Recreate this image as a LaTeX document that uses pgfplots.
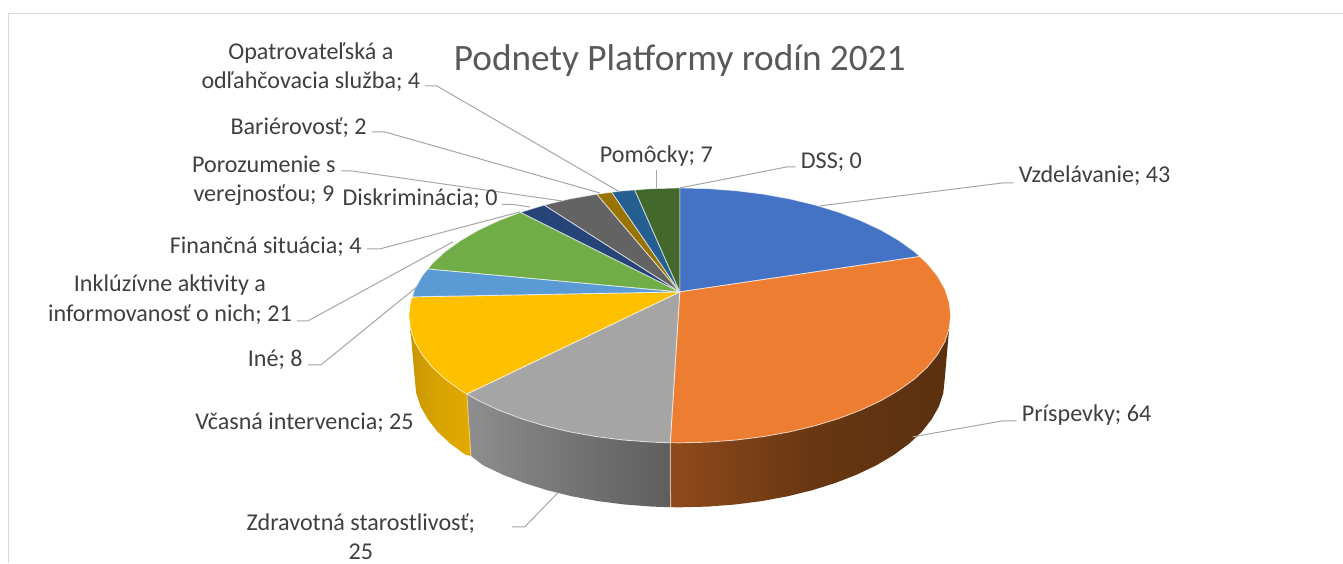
\documentclass[border=0pt]{standalone}
\usepackage{fontspec}
\setmainfont{Carlito}
\usepackage{pgfplots}
\pgfplotsset{compat=1.18}
\definecolor{cBlue}{HTML}{4472C4}
\definecolor{cOrange}{HTML}{ED7D31}
\definecolor{cGray}{HTML}{A5A5A5}
\definecolor{cYellow}{HTML}{FFC000}
\definecolor{cLight}{HTML}{5B9BD5}
\definecolor{cGreen}{HTML}{70AD47}
\definecolor{cNavy}{HTML}{264478}
\definecolor{cDark}{HTML}{636363}
\definecolor{cOchre}{HTML}{997300}
\definecolor{cSea}{HTML}{255E91}
\definecolor{cMoss}{HTML}{43682B}
\definecolor{brownL}{HTML}{8F4A1C}
\definecolor{brownM}{HTML}{693712}
\definecolor{brownR}{HTML}{5A300F}
\definecolor{grayL}{HTML}{8E8E8E}
\definecolor{grayM}{HTML}{757575}
\definecolor{grayR}{HTML}{5E5E5E}
\definecolor{yelL}{HTML}{E2A900}
\definecolor{yelM}{HTML}{D9A300}
\definecolor{yelR}{HTML}{C99700}
\definecolor{lead}{HTML}{A6A6A6}
\definecolor{txt}{HTML}{404040}
\tikzset{
  wedge/.style={fill=#1,draw=white,draw opacity=0.6,line width=0.9pt,line join=round},
  wall/.style n args={3}{shade,left color=#1,right color=#3,middle color=#2,draw=none},
  rimline/.style={draw=white,draw opacity=0.6,line width=1pt},
  leader/.style={draw=lead,line width=1pt,line join=round},
  lab/.style={text=txt,font=\fontsize{24.1}{29.5}\selectfont,align=center,inner sep=0pt},
}
\begin{document}
\begin{tikzpicture}[x=1pt,y=1pt]
\begin{axis}[
  scale only axis,
  width=1343pt,
  height=563pt,
  xmin=0,xmax=1343,
  ymin=0,ymax=563,
  y dir=reverse,
  hide axis,
  clip=false,
]
% page and frame
\addplot[fill=white,draw=none] coordinates {(0,0) (1343,0) (1343,563) (0,563)} -- cycle;
\addplot[draw=black!15,line width=1pt] coordinates {(9,563) (9,14) (1343,14)};

% side walls
% Prispevky
\addplot[wall={brownL}{brownM}{brownR}] coordinates {
 (949.5,328.8) (945.1,342) (937.7,354.9) (927.6,367.4) (914.7,379.3) (899.2,390.4) (881.4,400.8) (861.3,410.2) (839.3,418.6) (815.5,425.9) (790.2,432) (763.7,436.8) (736.3,440.2) (708.3,442.3) (680,443) (670.5,442.9)
 (670.8,507.4) (680,507.5) (707.7,506.8) (735.1,504.7) (761.9,501.3) (787.8,496.5) (812.5,490.4) (835.8,483.1) (857.3,474.7) (877,465.3) (894.4,454.9) (909.5,443.8) (922.2,431.9) (932,419.4) (939.3,406.5) (943.6,393.3) (945,380)
} -- cycle;
% Zdravotna starostlivost
\addplot[wall={grayL}{grayM}{grayR}] coordinates {
 (670.5,442.9) (651.7,442.3) (623.7,440.2) (596.3,436.8) (569.8,432) (544.5,425.9) (520.7,418.6) (498.7,410.2) (478.6,400.8) (467,394.2)
 (471,456) (483,465.3) (502.7,474.7) (524.2,483.1) (547.5,490.4) (572.2,496.5) (598.1,501.3) (624.9,504.7) (652.3,506.8) (670.8,507.4)
} -- cycle;
% Vcasna intervencia
\addplot[wall={yelR}{yelM}{yelL}] coordinates {
 (467,394.2) (460.8,390.4) (445.3,379.3) (432.4,367.4) (422.3,354.9) (414.9,342) (410.5,328.8)
 (415,380) (416.4,393.3) (420.7,406.5) (428,419.4) (437.8,431.9) (450.5,443.8) (465.6,454.9) (471,456)
} -- cycle;
\addplot[rimline] coordinates {(670.5,442.9) (670.8,507.4)};
\addplot[draw=yelL!60!white,line width=1pt] coordinates {(467,394.2) (471,456)};

% top faces, clockwise from the top, apex at (680,292)
% Vzdelavanie 43
\addplot[wedge=cBlue] coordinates {(680,292) (680,188) (708.3,188.7) (736.3,190.8) (763.7,194.2) (790.2,199) (815.5,205.1) (839.3,212.4) (861.3,220.8) (881.4,230.2) (899.2,240.6) (914.7,251.7) (920,256.6)} -- cycle;
% Prispevky 64
\addplot[wedge=cOrange] coordinates {(680,292) (920,256.6) (927.6,263.6) (937.7,276.1) (945.1,289) (949.5,302.2) (951,315.5) (949.5,328.8) (945.1,342) (937.7,354.9) (927.6,367.4) (914.7,379.3) (899.2,390.4) (881.4,400.8) (861.3,410.2) (839.3,418.6) (815.5,425.9) (790.2,432) (763.7,436.8) (736.3,440.2) (708.3,442.3) (680,443) (670.5,442.9)} -- cycle;
% Zdravotna starostlivost 25
\addplot[wedge=cGray] coordinates {(680,292) (670.5,442.9) (651.7,442.3) (623.7,440.2) (596.3,436.8) (569.8,432) (544.5,425.9) (520.7,418.6) (498.7,410.2) (478.6,400.8) (467,394.2)} -- cycle;
% Vcasna intervencia 25
\addplot[wedge=cYellow] coordinates {(680,292) (467,394.2) (460.8,390.4) (445.3,379.3) (432.4,367.4) (422.3,354.9) (414.9,342) (410.5,328.8) (409,315.5) (410.5,302.2) (412.4,297)} -- cycle;
% Ine 8
\addplot[wedge=cLight] coordinates {(680,292) (412.4,297) (414.9,289) (422.3,276.1) (428,269)} -- cycle;
% Inkluzivne aktivity 21
\addplot[wedge=cGreen] coordinates {(680,292) (428,269) (432.4,263.6) (445.3,251.7) (460.8,240.6) (478.6,230.2) (498.7,220.8) (520.7,212.4)} -- cycle;
% Financna situacia 4
\addplot[wedge=cNavy] coordinates {(680,292) (520.7,212.4) (544.5,205.1)} -- cycle;
% Porozumenie s verejnostou 9
\addplot[wedge=cDark] coordinates {(680,292) (544.5,205.1) (569.8,199) (597,194.2)} -- cycle;
% Barierovost 2
\addplot[wedge=cOchre] coordinates {(680,292) (597,194.2) (612,192.3)} -- cycle;
% Opatrovatelska 4
\addplot[wedge=cSea] coordinates {(680,292) (612,192.3) (623.7,190.8) (635,190)} -- cycle;
% Pomocky 7
\addplot[wedge=cMoss] coordinates {(680,292) (635,190) (651.7,188.7) (680,188)} -- cycle;

% leader lines
\addplot[leader] coordinates {(820,206) (1003,183) (1014,183)};
\addplot[leader] coordinates {(913,437) (1003,421) (1017,421)};
\addplot[leader] coordinates {(558,493) (525,527) (512,527)};
\addplot[leader] coordinates {(308,365) (321,365) (417,287)};
\addplot[leader] coordinates {(297,321) (308,321) (453,242)};
\addplot[leader] coordinates {(367,249) (380,249) (520,212)};
\addplot[leader] coordinates {(502,204.5) (513,204.5) (530,207)};
\addplot[leader] coordinates {(341,171) (352,171) (562,201)};
\addplot[leader] coordinates {(372,132) (385,132) (600,193)};
\addplot[leader] coordinates {(425,86) (437,86) (620,192)};
\addplot[leader] coordinates {(657,170) (657,188)};
\addplot[leader] coordinates {(680,188) (787,167) (796,167)};

% labels
\node[text=black!65,font=\fontsize{37.3}{44}\selectfont,inner sep=0pt] at (axis cs:680,61) {Podnety Platformy rodín 2021};
\node[lab,anchor=west] at (axis cs:1019,176) {Vzdelávanie; 43};
\node[lab,anchor=west] at (axis cs:1022,415.5) {Príspevky; 64};
\node[lab] at (axis cs:361,537) {Zdravotná starostlivosť;\\25};
\node[lab,anchor=east] at (axis cs:414,423) {Včasná intervencia; 25};
\node[lab,anchor=east] at (axis cs:303,360) {Iné; 8};
\node[lab] at (axis cs:170,300) {Inklúzívne aktivity a\\informovanosť o nich; 21};
\node[lab,anchor=east] at (axis cs:362,247) {Finančná situácia; 4};
\node[lab,anchor=east] at (axis cs:498,199) {Diskriminácia; 0};
\node[lab] at (axis cs:264,181) {Porozumenie s\\verejnosťou; 9};
\node[lab,anchor=east] at (axis cs:367,128) {Bariérovosť; 2};
\node[lab] at (axis cs:311,67) {Opatrovateľská a\\odľahčovacia služba; 4};
\node[lab,anchor=west] at (axis cs:600,156.5) {Pomôcky; 7};
\node[lab,anchor=west] at (axis cs:801,162) {DSS; 0};
\end{axis}
\end{tikzpicture}
\end{document}
